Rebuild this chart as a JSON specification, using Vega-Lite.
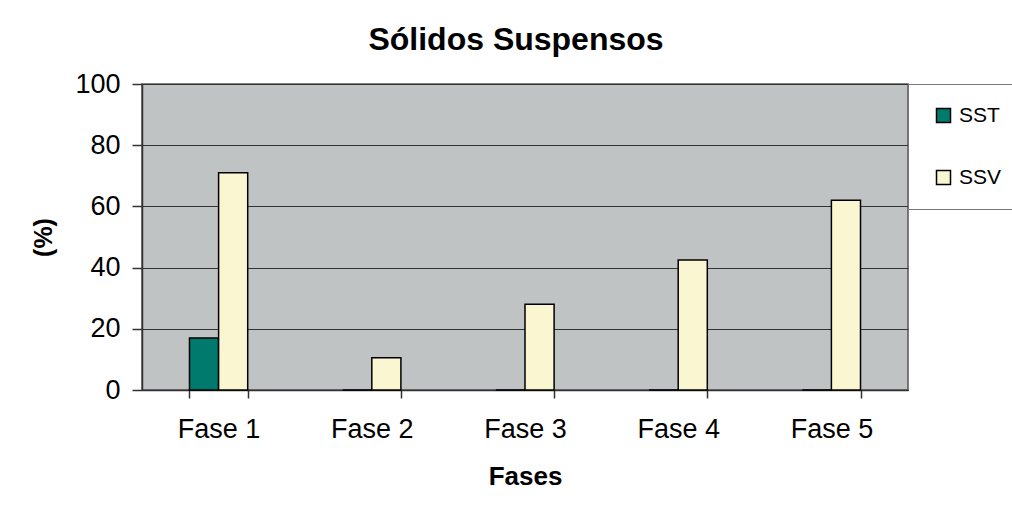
{
  "$schema": "https://vega.github.io/schema/vega-lite/v6.json",
  "autosize": "none",
  "width": 766,
  "height": 306,
  "padding": {"left": 142, "top": 84, "right": 104, "bottom": 128},
  "background": "white",
  "title": {
    "text": "Sólidos Suspensos",
    "font": "Liberation Sans",
    "fontSize": 32,
    "fontWeight": "bold",
    "color": "black",
    "anchor": "middle",
    "dx": -9,
    "offset": 13
  },
  "data": {
    "values": [
      {"fase": "Fase 1", "serie": "SST", "valor": 17},
      {"fase": "Fase 1", "serie": "SSV", "valor": 71},
      {"fase": "Fase 2", "serie": "SST", "valor": 0},
      {"fase": "Fase 2", "serie": "SSV", "valor": 10.5},
      {"fase": "Fase 3", "serie": "SST", "valor": 0},
      {"fase": "Fase 3", "serie": "SSV", "valor": 28},
      {"fase": "Fase 4", "serie": "SST", "valor": 0},
      {"fase": "Fase 4", "serie": "SSV", "valor": 42.5},
      {"fase": "Fase 5", "serie": "SST", "valor": 0},
      {"fase": "Fase 5", "serie": "SSV", "valor": 62}
    ]
  },
  "mark": {"type": "bar", "stroke": "black", "strokeWidth": 1.5},
  "encoding": {
    "x": {
      "field": "fase",
      "type": "nominal",
      "scale": {"paddingInner": 0.62, "paddingOuter": 0.31},
      "axis": {
        "title": "Fases",
        "labelAngle": 0,
        "tickBand": "extent",
        "tickSize": 8,
        "grid": false,
        "labelPadding": 18,
        "titlePadding": 21,
        "titleFontSize": 26
      }
    },
    "xOffset": {"field": "serie", "type": "nominal", "scale": {"paddingInner": 0, "paddingOuter": 0}},
    "y": {
      "field": "valor",
      "type": "quantitative",
      "scale": {"domain": [0, 100]},
      "axis": {
        "title": "(%)",
        "values": [0, 20, 40, 60, 80, 100],
        "grid": true,
        "tickSize": 10,
        "labelPadding": 12,
        "titlePadding": 18,
        "titleFontSize": 25
      }
    },
    "color": {
      "field": "serie",
      "type": "nominal",
      "scale": {"domain": ["SST", "SSV"], "range": ["#007a6c", "#fbf6d2"]},
      "legend": {
        "title": null,
        "orient": "none",
        "legendX": 766,
        "legendY": 0,
        "fillColor": "white",
        "strokeColor": "#777777",
        "padding": 21,
        "rowPadding": 40,
        "symbolType": "square",
        "symbolSize": 196,
        "symbolOffset": 4,
        "symbolStrokeColor": "black",
        "symbolStrokeWidth": 1.5,
        "labelFontSize": 21,
        "labelFont": "Liberation Sans",
        "labelColor": "black",
        "labelOffset": 5
      }
    }
  },
  "config": {
    "view": {"fill": "#c0c3c4", "stroke": "#555555", "strokeWidth": 1.5},
    "axis": {
      "labelFont": "Liberation Sans",
      "labelFontSize": 27,
      "labelColor": "black",
      "titleFont": "Liberation Sans",
      "titleFontWeight": "bold",
      "titleColor": "black",
      "domainColor": "#333333",
      "domainWidth": 1.5,
      "tickColor": "#333333",
      "tickWidth": 1.5,
      "gridColor": "#333333",
      "gridWidth": 1,
      "gridOpacity": 1
    }
  }
}
